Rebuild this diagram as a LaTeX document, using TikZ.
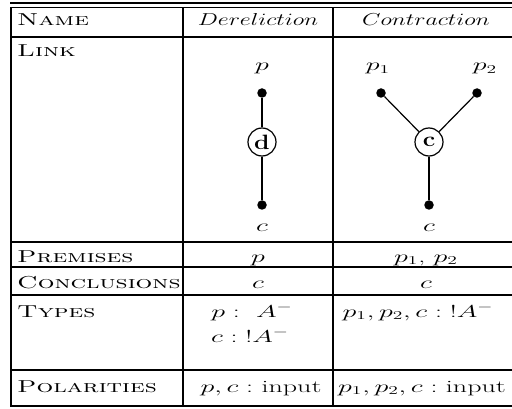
\documentclass[tikz,border=0pt]{standalone}
\usepackage{graphicx}
\newcommand{\sx}[1]{\scalebox{1.62}[1]{#1}}
\newcommand{\scx}[1]{\scalebox{1.52}[1]{\textsc{#1}}}
\newcommand{\hx}[1]{\scalebox{1.385}[1]{#1}}
\tikzset{
  tbl/.style={line width=1.6pt},
  topline/.style={line width=2.4pt},
  sepline/.style={line width=2.3pt},
  thk/.style={line width=2.4pt},
  thn/.style={line width=1.2pt},
  dotn/.style={circle,fill,inner sep=0pt,minimum size=9.5pt},
  lk/.style={circle,draw,line width=1.2pt,fill=white,inner sep=0pt,minimum size=28pt,font=\fontsize{20.74}{24}\selectfont\bfseries},
  lbl/.style={font=\fontsize{17.28}{20}\selectfont,inner sep=0pt},
}
\begin{document}
\begin{tikzpicture}[x=1pt,y=-1pt]
\useasboundingbox (0,0) rectangle (512,409);
% table rules
\draw[topline] (10,3) -- (512,3);
\draw[tbl] (10,7.5) -- (512,7.5);
\draw[tbl] (10,37) -- (512,37);
\draw[tbl] (10,242) -- (512,242);
\draw[tbl] (10,267) -- (512,267);
\draw[tbl] (10,295) -- (512,295);
\draw[tbl] (10,370) -- (512,370);
\draw[tbl] (10,406) -- (512,406);
\draw[tbl] (11,7.5) -- (11,406);
\draw[tbl] (183,7.5) -- (183,406);
\draw[sepline] (333,7.5) -- (333,406);
% header
\node[lbl,anchor=base west] (hname) at (17,26) {\scx{Name}};
\node[lbl,anchor=base] (hder) at (258,26) {\hx{$Dereliction$}};
\node[lbl,anchor=base] (hcon) at (426,26) {\hx{$Contraction$}};
% link row
\node[lbl,anchor=base west] (hlink) at (17,57) {\scx{Link}};
% dereliction link
\node[lbl,anchor=base] (dp) at (262,71) {\sx{$p$}};
\node[dotn] (dtop) at (262,93) {};
\node[lk] (dd) at (262,142) {\scalebox{1.2}[1]{d}};
\node[dotn] (dbot) at (262,205) {};
\node[lbl,anchor=base] (dc) at (262,232) {\sx{$c$}};
\draw[thk] (dtop) -- (dd);
\draw[thk] (dd) -- (dbot);
% contraction link
\node[lbl,anchor=base] (cp1) at (378,71) {\sx{$p_1$}};
\node[lbl,anchor=base] (cp2) at (485,71) {\sx{$p_2$}};
\node[dotn] (ctop1) at (381,93) {};
\node[dotn] (ctop2) at (477,93) {};
\node[lk] (cc) at (429,142) {\scalebox{1.2}[1]{c}};
\node[dotn] (cbot) at (429,205) {};
\node[lbl,anchor=base] (ccl) at (429,232) {\sx{$c$}};
\draw[thn] (ctop1) -- (cc);
\draw[thn] (ctop2) -- (cc);
\draw[thk] (cc) -- (cbot);
% premises
\node[lbl,anchor=base west] (hprem) at (17,262) {\scx{Premises}};
\node[lbl,anchor=base] (dprem) at (258,262) {\sx{$p$}};
\node[lbl,anchor=base] (cprem) at (426,262) {\sx{$p_1$, $p_2$}};
% conclusions
\node[lbl,anchor=base west] (hconc) at (17,288) {\scx{Conclusions}};
\node[lbl,anchor=base] (dconc) at (258,288) {\sx{$c$}};
\node[lbl,anchor=base] (cconc) at (426,288) {\sx{$c$}};
% types
\node[lbl,anchor=base west] (htyp) at (17,317) {\scx{Types}};
\node[lbl,anchor=base] (dtyp1) at (252,317) {\sx{$p:\ A^-$}};
\node[lbl,anchor=base] (dtyp2) at (250,342) {\sx{$c:{!A^-}$}};
\node[lbl,anchor=base] (ctyp) at (418,317) {\sx{$p_1,p_2,c:{!A^-}$}};
% polarities
\node[lbl,anchor=base west] (hpol) at (17,392) {\scx{Polarities}};
\node[lbl,anchor=base] (dpol) at (261,392) {\sx{$p,c:$ input}};
\node[lbl,anchor=base] (cpol) at (422,392) {\sx{$p_1,p_2,c:$ input}};
\end{tikzpicture}
\end{document}
